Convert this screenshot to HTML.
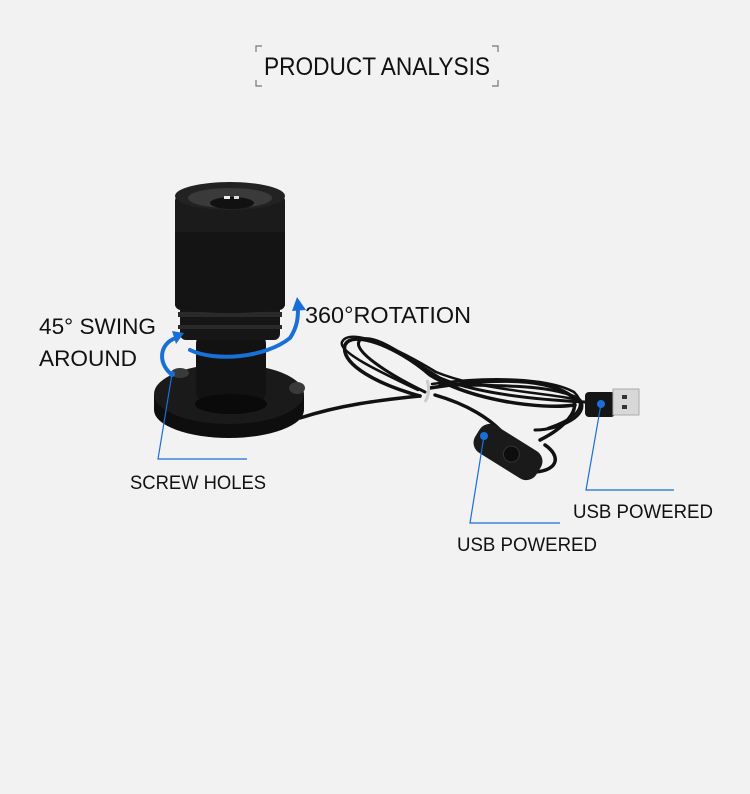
<!DOCTYPE html>
<html><head><meta charset="utf-8"><style>
html,body{margin:0;padding:0;background:#f2f2f2;}
svg{display:block}
text{font-family:"Liberation Sans",sans-serif;fill:#111}
</style></head><body>
<svg width="750" height="794" viewBox="0 0 750 794" xmlns="http://www.w3.org/2000/svg">
<rect width="750" height="794" fill="#f2f2f2"/>
<!-- title brackets -->
<g stroke="#777" stroke-width="1.2" fill="none">
<path d="M256 52V46h6"/><path d="M492 46h6v6"/>
<path d="M256 80v6h6"/><path d="M492 86h6v-6"/>
</g>
<text x="264" y="75" font-size="25" textLength="226" lengthAdjust="spacingAndGlyphs" font-weight="300" fill="#222">PRODUCT ANALYSIS</text>

<!-- cable -->
<g fill="none" stroke="#111" stroke-linecap="round">
<path d="M300 418 C340 405 380 400 420 396" stroke-width="3.5"/>
<path d="M420 396 C380 385 340 365 345 345 C352 330 395 345 430 375 C470 400 540 410 575 405" stroke-width="3.5"/>
<path d="M425 392 C390 375 350 350 360 340 C375 332 410 360 440 378 C480 395 545 400 585 402" stroke-width="3"/>
<path d="M418 390 C380 372 338 352 342 342 C350 326 400 350 436 372 C480 390 540 392 580 400" stroke-width="2.5"/>
<path d="M430 388 C480 380 540 375 570 395 C585 410 560 430 540 440" stroke-width="3.5"/>
<path d="M432 384 C490 376 548 378 574 392 C590 408 572 420 548 428" stroke-width="2.5"/>
<path d="M435 395 C470 405 490 420 500 430 M545 445 C560 455 560 470 535 472" stroke-width="3.5"/>
<path d="M440 385 C500 385 560 385 580 400 C590 415 560 430 535 430" stroke-width="3"/>
</g>
<path d="M427 380 q4 12 -2 22" stroke="#ccc" stroke-width="3" fill="none"/>
<!-- switch -->
<g transform="rotate(32 508 452)">
<rect x="472" y="436" width="72" height="32" rx="12" fill="#1a1a1a"/>
<circle cx="512" cy="452" r="8" fill="#0d0d0d" stroke="#333"/>
</g>
<!-- usb -->
<rect x="585" y="392" width="30" height="25" rx="4" fill="#151515"/>
<rect x="613" y="389" width="26" height="26" fill="#d8d8d8" stroke="#aaa"/>
<rect x="622" y="395" width="5" height="4" fill="#333"/><rect x="622" y="405" width="5" height="4" fill="#333"/>

<!-- lamp base -->
<ellipse cx="229" cy="410" rx="75" ry="28" fill="#0e0e0e"/>
<rect x="154" y="395" width="150" height="15" fill="#0e0e0e"/>
<ellipse cx="229" cy="394" rx="75" ry="30" fill="#1a1a1a"/>
<ellipse cx="180" cy="373" rx="9" ry="5" fill="#3a3a3a"/>
<ellipse cx="297" cy="388" rx="8" ry="6" fill="#3a3a3a"/>
<!-- neck -->
<rect x="196" y="330" width="70" height="75" rx="14" fill="#121212"/>
<ellipse cx="231" cy="404" rx="36" ry="10" fill="#0a0a0a"/>
<!-- rings -->
<rect x="180" y="305" width="100" height="35" rx="6" fill="#161616"/>
<rect x="178" y="312" width="104" height="5" fill="#2a2a2a"/>
<rect x="178" y="325" width="104" height="4" fill="#2a2a2a"/>
<!-- body -->
<rect x="175" y="195" width="110" height="115" rx="6" fill="#141414"/>
<ellipse cx="230" cy="305" rx="55" ry="8" fill="#141414"/>
<rect x="175" y="200" width="110" height="32" fill="#1b1b1b"/>
<ellipse cx="230" cy="196" rx="55" ry="14" fill="#222"/>
<ellipse cx="230" cy="198" rx="42" ry="10" fill="#3a3a3a"/>
<ellipse cx="232" cy="203" rx="22" ry="6" fill="#111"/>
<rect x="224" y="196" width="6" height="3" fill="#eee"/><rect x="234" y="196" width="5" height="3" fill="#ddd"/>

<!-- blue arrows -->
<g fill="none" stroke="#1a6fd6" stroke-width="4" stroke-linecap="round">
<path d="M190 350 C215 362 265 358 290 338 C298 326 298 316 298 308"/>
<path d="M171 374 C157 362 160 343 176 338"/>
</g>
<path d="M292 311 L297 297 L306 310 Z" fill="#1a6fd6"/>
<path d="M172 331 L184 333 L176 344 Z" fill="#1a6fd6"/>

<!-- leader lines -->
<g stroke="#1a6fd6" stroke-width="1.2" fill="none">
<path d="M172 374 L158 459 H247"/>
<path d="M484 436 L470 523 H560"/>
<path d="M601 404 L586 490 H674"/>
</g>
<g fill="#1a6fd6"><circle cx="172" cy="374" r="3"/><circle cx="484" cy="436" r="4"/><circle cx="601" cy="404" r="4"/></g>

<!-- labels -->
<text x="39" y="334" font-size="22" textLength="117" lengthAdjust="spacingAndGlyphs">45° SWING</text>
<text x="39" y="366" font-size="22" textLength="98" lengthAdjust="spacingAndGlyphs">AROUND</text>
<text x="305" y="323" font-size="23" textLength="166" lengthAdjust="spacingAndGlyphs">360°ROTATION</text>
<text x="130" y="489" font-size="19" textLength="136" lengthAdjust="spacingAndGlyphs">SCREW HOLES</text>
<text x="573" y="518" font-size="19" textLength="140" lengthAdjust="spacingAndGlyphs">USB POWERED</text>
<text x="457" y="551" font-size="19" textLength="140" lengthAdjust="spacingAndGlyphs">USB POWERED</text>
</svg>
</body></html>
